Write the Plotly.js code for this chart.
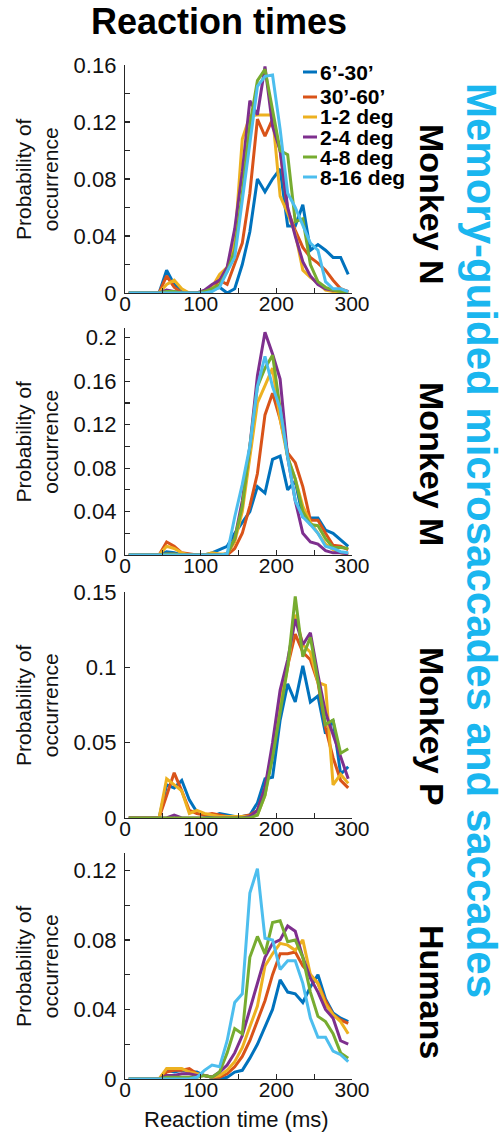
<!DOCTYPE html>
<html><head><meta charset="utf-8">
<script src="https://cdn.plot.ly/plotly-3.0.1.min.js"></script>
<style>html,body{margin:0;padding:0;background:#fff;overflow:hidden}</style>
</head><body><div id="chart" style="width:504px;height:1135px"></div>
<script>
// ---------------- data ----------------
const rtBins = [5,15,25,35,45,55,65,75,85,95,105,115,125,135,145,155,165,175,185,195,205,215,225,235,245,255,265,275,285,295];
const seriesNames = ["6’-30’","30’-60’","1-2 deg","2-4 deg","4-8 deg","8-16 deg"];
const seriesColors = ["#0072BD","#D95319","#EDB120","#7E2F8E","#77AC30","#4DBEEE"];
const panelNames = ["Monkey N","Monkey M","Monkey P","Humans"];

// Monkey N
const monkeyN_6to30  = [0,0,0,0,0,0.016,0.006,0.001,0,0,0,0.002,0.004,0,0.003,0.02,0.043,0.08,0.071,0.08,0.087,0.047,0.047,0.062,0.03,0.034,0.03,0.025,0.025,0.013];
const monkeyN_30to60 = [0,0,0,0,0,0.012,0.004,0,0,0,0,0.004,0.009,0.006,0.02,0.035,0.07,0.122,0.11,0.122,0.1,0.058,0.044,0.032,0.025,0.021,0.016,0.009,0.003,0.001];
const monkeyN_1to2   = [0,0,0,0,0,0.006,0.009,0.003,0,0,0,0.004,0.013,0.018,0.035,0.108,0.124,0.125,0.125,0.125,0.068,0.056,0.042,0.016,0.011,0.007,0.002,0.001,0,0];
const monkeyN_2to4   = [0,0,0,0,0,0.002,0.001,0,0,0,0.002,0.006,0.009,0.018,0.045,0.085,0.135,0.125,0.159,0.117,0.1,0.06,0.04,0.022,0.012,0.006,0.003,0.002,0.002,0.001];
const monkeyN_4to8   = [0,0,0,0,0,0.001,0.001,0,0,0,0.001,0.003,0.006,0.015,0.03,0.07,0.118,0.149,0.157,0.128,0.1,0.097,0.05,0.052,0.02,0.008,0.004,0.002,0.001,0];
const monkeyN_8to16  = [0,0,0,0,0,0,0,0,0,0,0,0.001,0.004,0.015,0.025,0.065,0.105,0.145,0.152,0.153,0.115,0.07,0.06,0.048,0.035,0.03,0.008,0.003,0.003,0.001];

// Monkey M
const monkeyM_6to30  = [0,0,0,0,0,0.003,0.002,0,0,0,0,0.002,0.005,0.008,0.02,0.03,0.04,0.063,0.057,0.088,0.091,0.06,0.068,0.035,0.034,0.034,0.023,0.02,0.014,0.008];
const monkeyM_30to60 = [0,0,0,0,0,0.012,0.008,0.002,0.001,0,0,0.001,0,0,0.006,0.02,0.045,0.075,0.129,0.149,0.125,0.094,0.085,0.063,0.032,0.032,0.02,0.009,0.008,0.005];
const monkeyM_1to2   = [0,0,0,0,0,0.008,0.006,0.002,0,0,0,0.002,0.001,0.001,0.012,0.04,0.09,0.14,0.156,0.172,0.125,0.09,0.07,0.045,0.03,0.02,0.01,0.005,0.002,0];
const monkeyM_2to4   = [0,0,0,0,0,0.001,0.001,0,0,0,0,0,0,0.001,0.015,0.05,0.1,0.165,0.205,0.185,0.162,0.09,0.05,0.02,0.012,0.01,0.004,0.002,0.002,0.001];
const monkeyM_4to8   = [0,0,0,0,0,0.001,0.001,0,0,0,0,0,0,0.001,0.015,0.045,0.1,0.155,0.172,0.184,0.135,0.09,0.07,0.04,0.028,0.027,0.015,0.007,0.007,0.006];
const monkeyM_8to16  = [0,0,0,0,0,0,0,0,0,0,0,0,0,0.001,0.035,0.065,0.1,0.155,0.183,0.155,0.135,0.09,0.05,0.035,0.028,0.02,0.008,0.006,0.003,0.002];

// Monkey P (no 8-16 deg)
const monkeyP_6to30  = [0,0,0,0,0,0.022,0.02,0.025,0.012,0.004,0.002,0.001,0.003,0.002,0.001,0.001,0.002,0.01,0.026,0.027,0.065,0.089,0.077,0.101,0.077,0.081,0.056,0.065,0.029,0.034];
const monkeyP_30to60 = [0,0,0,0,0,0.015,0.03,0.018,0.005,0.003,0.002,0.003,0.002,0.001,0.001,0.001,0.002,0.005,0.02,0.045,0.08,0.1,0.122,0.11,0.105,0.09,0.06,0.04,0.025,0.02];
const monkeyP_1to2   = [0,0,0,0,0,0.026,0.022,0.018,0.003,0.005,0.003,0.002,0.001,0.001,0.001,0.001,0.001,0.002,0.015,0.045,0.075,0.1,0.135,0.115,0.11,0.09,0.088,0.022,0.029,0.023];
const monkeyP_2to4   = [0,0,0,0,0,0,0.002,0,0,0,0,0,0,0,0,0,0.001,0.005,0.02,0.05,0.085,0.105,0.132,0.115,0.123,0.095,0.07,0.055,0.04,0.026];
const monkeyP_4to8   = [0,0,0,0,0,0,0,0,0,0,0,0,0,0,0,0,0,0.002,0.015,0.04,0.07,0.1,0.147,0.107,0.12,0.09,0.062,0.065,0.043,0.046];

// Humans
const humans_6to30  = [0,0,0,0,0,0.005,0.004,0.005,0.004,0.004,0.002,0.001,0,0.001,0.004,0.005,0.012,0.02,0.03,0.04,0.057,0.05,0.049,0.044,0.053,0.06,0.046,0.038,0.035,0.033];
const humans_30to60 = [0,0,0,0,0,0.004,0.005,0.005,0.006,0.003,0.002,0.001,0.001,0.003,0.007,0.013,0.022,0.033,0.045,0.06,0.072,0.072,0.073,0.065,0.06,0.055,0.045,0.037,0.034,0.032];
const humans_1to2   = [0,0,0,0,0,0.006,0.006,0.006,0.004,0.003,0.002,0.001,0.002,0.005,0.01,0.018,0.03,0.042,0.065,0.072,0.078,0.077,0.074,0.08,0.06,0.055,0.043,0.037,0.033,0.026];
const humans_2to4   = [0,0,0,0,0,0.002,0.002,0.003,0.003,0.002,0.002,0.001,0.004,0.008,0.015,0.025,0.04,0.055,0.07,0.078,0.08,0.088,0.085,0.07,0.058,0.05,0.04,0.035,0.022,0.02];
const humans_4to8   = [0,0,0,0,0,0.001,0.001,0.001,0.001,0.001,0.002,0.001,0.004,0.015,0.029,0.026,0.07,0.082,0.072,0.09,0.091,0.079,0.08,0.07,0.05,0.036,0.033,0.026,0.015,0.012];
const humans_8to16  = [0,0,0,0,0,0,0,0,0,0.001,0.005,0.008,0.007,0.022,0.044,0.049,0.107,0.121,0.081,0.08,0.063,0.068,0.068,0.055,0.035,0.024,0.024,0.016,0.014,0.01];

// ticks
const xTickVals = [0,50,100,150,200,250,300];
const xTickText = ["0","","100","","200","","300"];
const yTickValsN = [0,0.02,0.04,0.06,0.08,0.1,0.12,0.14,0.16];
const yTickTextN = ["0","","0.04","","0.08","","0.12","","0.16"];
const yTickValsM = [0,0.02,0.04,0.06,0.08,0.1,0.12,0.14,0.16,0.18,0.2];
const yTickTextM = ["0","","0.04","","0.08","","0.12","","0.16","","0.2"];
const yTickValsP = [0,0.05,0.1,0.15];
const yTickTextP = ["0","0.05","0.1","0.15"];
const yTickValsH = [0,0.02,0.04,0.06,0.08,0.1,0.12];
const yTickTextH = ["0","","0.04","","0.08","","0.12"];
const yRanges = [[0,0.16],[0,0.209],[0,0.15],[0,0.13]];

// ---------------- layout helpers ----------------
const W = 504, H = 1135;
const px = x => x / W;
const py = y => 1 - y / H;
const FONT = "Liberation Sans, Arial, Helvetica, sans-serif";
const AX = "#262626";

const panelSeries = [
  [monkeyN_6to30, monkeyN_30to60, monkeyN_1to2, monkeyN_2to4, monkeyN_4to8, monkeyN_8to16],
  [monkeyM_6to30, monkeyM_30to60, monkeyM_1to2, monkeyM_2to4, monkeyM_4to8, monkeyM_8to16],
  [monkeyP_6to30, monkeyP_30to60, monkeyP_1to2, monkeyP_2to4, monkeyP_4to8, null],
  [humans_6to30, humans_30to60, humans_1to2, humans_2to4, humans_4to8, humans_8to16]
];
const yTicks = [[yTickValsN,yTickTextN],[yTickValsM,yTickTextM],[yTickValsP,yTickTextP],[yTickValsH,yTickTextH]];
const panelTop = [65, 328, 592, 853];
const panelBot = [293, 555, 818, 1079];
const plotL = 125, plotR = 352;

const traces = [];
panelSeries.forEach((ser, p) => {
  ser.forEach((vals, s) => {
    if (!vals) return;
    traces.push({
      x: rtBins, y: vals, type: "scatter", mode: "lines",
      xaxis: p === 0 ? "x" : "x" + (p + 1),
      yaxis: p === 0 ? "y" : "y" + (p + 1),
      line: {color: seriesColors[s], width: 3},
      name: seriesNames[s], showlegend: false, hoverinfo: "skip"
    });
  });
});

const layout = {
  width: W, height: H,
  margin: {l: 0, r: 0, t: 0, b: 0},
  paper_bgcolor: "#fff", plot_bgcolor: "#fff",
  showlegend: false,
  font: {family: FONT, color: "#000"},
  annotations: [], shapes: []
};

for (let p = 0; p < 4; p++) {
  const xk = p === 0 ? "xaxis" : "xaxis" + (p + 1);
  const yk = p === 0 ? "yaxis" : "yaxis" + (p + 1);
  const yid = p === 0 ? "y" : "y" + (p + 1);
  const xid = p === 0 ? "x" : "x" + (p + 1);
  layout[xk] = {
    domain: [px(plotL), px(plotR)], anchor: yid, range: [0, 300],
    showline: true, linecolor: AX, linewidth: 1.2, mirror: false,
    ticks: "inside", ticklen: 5, tickcolor: AX, tickwidth: 1.2,
    tickmode: "array", tickvals: xTickVals, ticktext: xTickText,
    tickfont: {family: FONT, size: 21, color: "#111"},
    ticklabelstandoff: -8,
    showgrid: false, zeroline: false, fixedrange: true
  };
  layout[yk] = {
    domain: [py(panelBot[p]), py(panelTop[p])], anchor: xid, range: yRanges[p],
    showline: true, linecolor: AX, linewidth: 1.2,
    ticks: "inside", ticklen: 5, tickcolor: AX, tickwidth: 1.2,
    tickmode: "array", tickvals: yTicks[p][0], ticktext: yTicks[p][1],
    tickfont: {family: FONT, size: 22, color: "#111"},
    ticklabelstandoff: 3,
    showgrid: false, zeroline: false, fixedrange: true
  };
  // y-axis title
  layout.annotations.push({
    xref: "paper", yref: "paper", x: px(37), y: py((panelTop[p] + panelBot[p]) / 2),
    text: "Probability of<br>occurrence", showarrow: false, textangle: -90,
    font: {family: FONT, size: 21, color: "#111"}, xanchor: "center", yanchor: "middle"
  });
}

// right-side panel labels
const panelLabelY = [204, 464, 726, 992];
panelNames.forEach((nm, p) => {
  layout.annotations.push({
    xref: "paper", yref: "paper", x: px(432), y: py(panelLabelY[p]),
    text: "<b>" + nm + "</b>", showarrow: false, textangle: 90,
    font: {family: FONT, size: 34, color: "#000"}, xanchor: "center", yanchor: "middle"
  });
});

// big cyan side title
layout.annotations.push({
  xref: "paper", yref: "paper", x: px(481), y: py(540),
  text: "<b>Memory-guided microsaccades and saccades</b>", showarrow: false, textangle: 90,
  font: {family: FONT, size: 42, color: "#1AB6EF"}, xanchor: "center", yanchor: "middle"
});

// title
layout.annotations.push({
  xref: "paper", yref: "paper", x: px(219), y: py(22),
  text: "<b>Reaction times</b>", showarrow: false,
  font: {family: FONT, size: 36, color: "#000"}, xanchor: "center", yanchor: "middle"
});

// x-axis title
layout.annotations.push({
  xref: "paper", yref: "paper", x: px(236), y: py(1119),
  text: "Reaction time (ms)", showarrow: false,
  font: {family: FONT, size: 22, color: "#111"}, xanchor: "center", yanchor: "middle"
});

// legend (panel 1)
const legendRowY = [72, 97, 117, 137, 157, 177];
seriesNames.forEach((nm, s) => {
  layout.shapes.push({
    type: "line", xref: "paper", yref: "paper",
    x0: px(303), x1: px(317), y0: py(legendRowY[s]), y1: py(legendRowY[s]),
    line: {color: seriesColors[s], width: 3}
  });
  layout.annotations.push({
    xref: "paper", yref: "paper", x: px(318), y: py(legendRowY[s]),
    text: "<b>" + nm + "</b>", showarrow: false,
    font: {family: FONT, size: 21, color: "#000"}, xanchor: "left", yanchor: "middle"
  });
});

Plotly.newPlot("chart", traces, layout, {staticPlot: true, displayModeBar: false});
</script></body></html>
